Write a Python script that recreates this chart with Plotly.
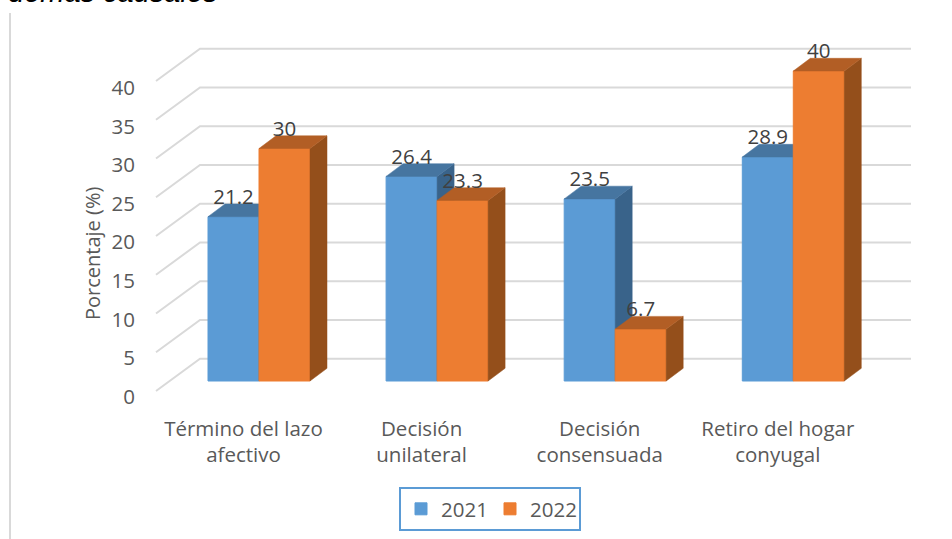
import plotly.graph_objects as go

categories = ["Término del lazo<br>afectivo", "Decisión<br>unilateral",
              "Decisión<br>consensuada", "Retiro del hogar<br>conyugal"]
series_2021 = [21.2, 26.4, 23.5, 28.9]
series_2022 = [30, 23.3, 6.7, 40]
y_ticks = [0, 5, 10, 15, 20, 25, 30, 35, 40]
y_title = "Porcentaje (%)"
heading = "demás causales"

W, H = 952, 539
FONT = "Open Sans"
FS = 20.5
BLUE, BLUE_TOP, BLUE_SIDE = "#5B9BD5", "#4675A0", "#39638A"
ORANGE, ORANGE_TOP, ORANGE_SIDE = "#ED7D31", "#B25E25", "#944F1B"
GRID = "#D9D9D9"

# pixel calibration of the oblique projection
px_cat, px_val = 178.1, 7.75
x0_px, y0_px = 259.0, 381.0
xrange_ = [(0 - x0_px) / px_cat, (W - x0_px) / px_cat]
yrange_ = [(y0_px - H) / px_val, y0_px / px_val]
bw = 51 / px_cat
bar_dx, bar_dy = 17 / px_cat, 12.7 / px_val
fx = (156 - x0_px) / px_cat
bx = (200 - x0_px) / px_cat
rx = (911 - x0_px) / px_cat
fy = (y0_px - 391) / px_val
by = (y0_px - 358.7) / px_val

fig = go.Figure()

# walls (lowest subplot layer)
gx, gy = [], []
for v in y_ticks:
    gx += [fx, bx, rx, None]
    gy += [fy + v, by + v, by + v, None]
fig.add_trace(go.Scatter(x=gx, y=gy, mode="lines", line=dict(color=GRID, width=2),
                         showlegend=False, hoverinfo="skip"))


def faces(values, offset, top, side, xa, ya):
    for i, v in enumerate(values):
        xl, xr = i + offset, i + offset + bw
        fig.add_trace(go.Scatter(
            x=[xr, xr + bar_dx, xr + bar_dx, xr, xr], y=[0, bar_dy, v + bar_dy, v, 0],
            mode="lines", fill="toself", fillcolor=side, line=dict(color=side, width=0.5),
            showlegend=False, hoverinfo="skip", xaxis=xa, yaxis=ya))
        fig.add_trace(go.Scatter(
            x=[xl, xl + bar_dx, xr + bar_dx, xr, xl], y=[v, v + bar_dy, v + bar_dy, v, v],
            mode="lines", fill="toself", fillcolor=top, line=dict(color=top, width=0.5),
            showlegend=False, hoverinfo="skip", xaxis=xa, yaxis=ya))


idx = list(range(len(categories)))
fig.add_trace(go.Bar(x=idx, y=series_2021, width=bw, offset=-bw, name="2021", xaxis="x3", yaxis="y3",
                     marker=dict(color=BLUE, line=dict(width=1, color=BLUE))))
faces(series_2021, -bw, BLUE_TOP, BLUE_SIDE, "x3", "y3")

# the 2022 bars sit on their own overlaid axes so they cover the 2021 side faces
fig.add_trace(go.Bar(x=idx, y=series_2022, width=bw, offset=0, name="2022", xaxis="x4", yaxis="y4",
                     marker=dict(color=ORANGE, line=dict(width=1, color=ORANGE))))
faces(series_2022, 0, ORANGE_TOP, ORANGE_SIDE, "x4", "y4")

# data labels
lab_gap = 18 / px_val
fig.add_trace(go.Scatter(
    x=[i - bw / 2 for i in idx] + [i + bw / 2 for i in idx],
    y=[v + lab_gap for v in series_2021 + series_2022],
    text=[str(v) for v in series_2021 + series_2022],
    mode="text", textposition="middle center",
    textfont=dict(family=FONT, size=FS, color="#404040"),
    showlegend=False, hoverinfo="skip", xaxis="x4", yaxis="y4"))

# axis-carrying trace (tick labels sit apart from the wall in the original)
fig.add_trace(go.Scatter(x=idx, y=[0, 0, 0, 0], mode="markers", marker=dict(opacity=0, size=1),
                         showlegend=False, hoverinfo="skip", xaxis="x2", yaxis="y2"))

lab_x_px = 243.5
lab_y_px = 396.7
lab_scale = 7.72
hidden = dict(visible=False, fixedrange=True)
fig.update_layout(
    width=W, height=H, autosize=False,
    margin=dict(l=0, r=0, t=0, b=0),
    paper_bgcolor="white", plot_bgcolor="white",
    font=dict(family=FONT, color="#595959", size=FS),
    xaxis=dict(range=xrange_, domain=[0, 1], **hidden),
    yaxis=dict(range=yrange_, domain=[0, 1], **hidden),
    xaxis3=dict(range=xrange_, domain=[0, 1], overlaying="x", anchor="y3", **hidden),
    yaxis3=dict(range=yrange_, domain=[0, 1], overlaying="y", anchor="x3", **hidden),
    xaxis4=dict(range=xrange_, domain=[0, 1], overlaying="x", anchor="y4", **hidden),
    yaxis4=dict(range=yrange_, domain=[0, 1], overlaying="y", anchor="x4", **hidden),
    xaxis2=dict(range=[(0 - lab_x_px) / px_cat, (W - lab_x_px) / px_cat], domain=[0, 1],
                overlaying="x", anchor="free", position=1 - 414 / H, tickmode="array",
                tickvals=idx, ticktext=categories, showgrid=False, zeroline=False, showline=False,
                ticks="", tickfont=dict(family=FONT, size=FS, color="#595959"), tickangle=0),
    yaxis2=dict(range=[(lab_y_px - H) / lab_scale, lab_y_px / lab_scale], domain=[0, 1],
                overlaying="y", anchor="free", position=135 / W, tickmode="array",
                tickvals=y_ticks, showgrid=False, zeroline=False, showline=False, ticks="",
                tickfont=dict(family=FONT, size=FS, color="#595959")),
    legend=dict(orientation="h", x=399 / W, y=1 - 487 / H, xanchor="left", yanchor="top",
                bordercolor=BLUE, borderwidth=2, bgcolor="white", entrywidth=44, entrywidthmode="pixels",
                font=dict(family=FONT, size=FS, color="#595959")),
    shapes=[dict(type="line", xref="paper", yref="paper", x0=10 / W, x1=10 / W, y0=0, y1=1 - 13 / H,
                 line=dict(color=GRID, width=2))],
    annotations=[
        dict(text="<i>" + heading + "</i>", xref="paper", yref="paper", x=6 / W, y=1 - 10 / H,
             xanchor="left", yanchor="bottom", showarrow=False,
             font=dict(family="Liberation Sans", size=29, color="black")),
        dict(text=y_title, xref="paper", yref="paper", x=92 / W, y=1 - 254 / H, textangle=-90,
             xanchor="center", yanchor="middle", showarrow=False,
             font=dict(family=FONT, size=20, color="#595959")),
    ],
)
fig.write_html("out.html", config={"displayModeBar": False},
               post_script="document.body.style.margin='0';")
